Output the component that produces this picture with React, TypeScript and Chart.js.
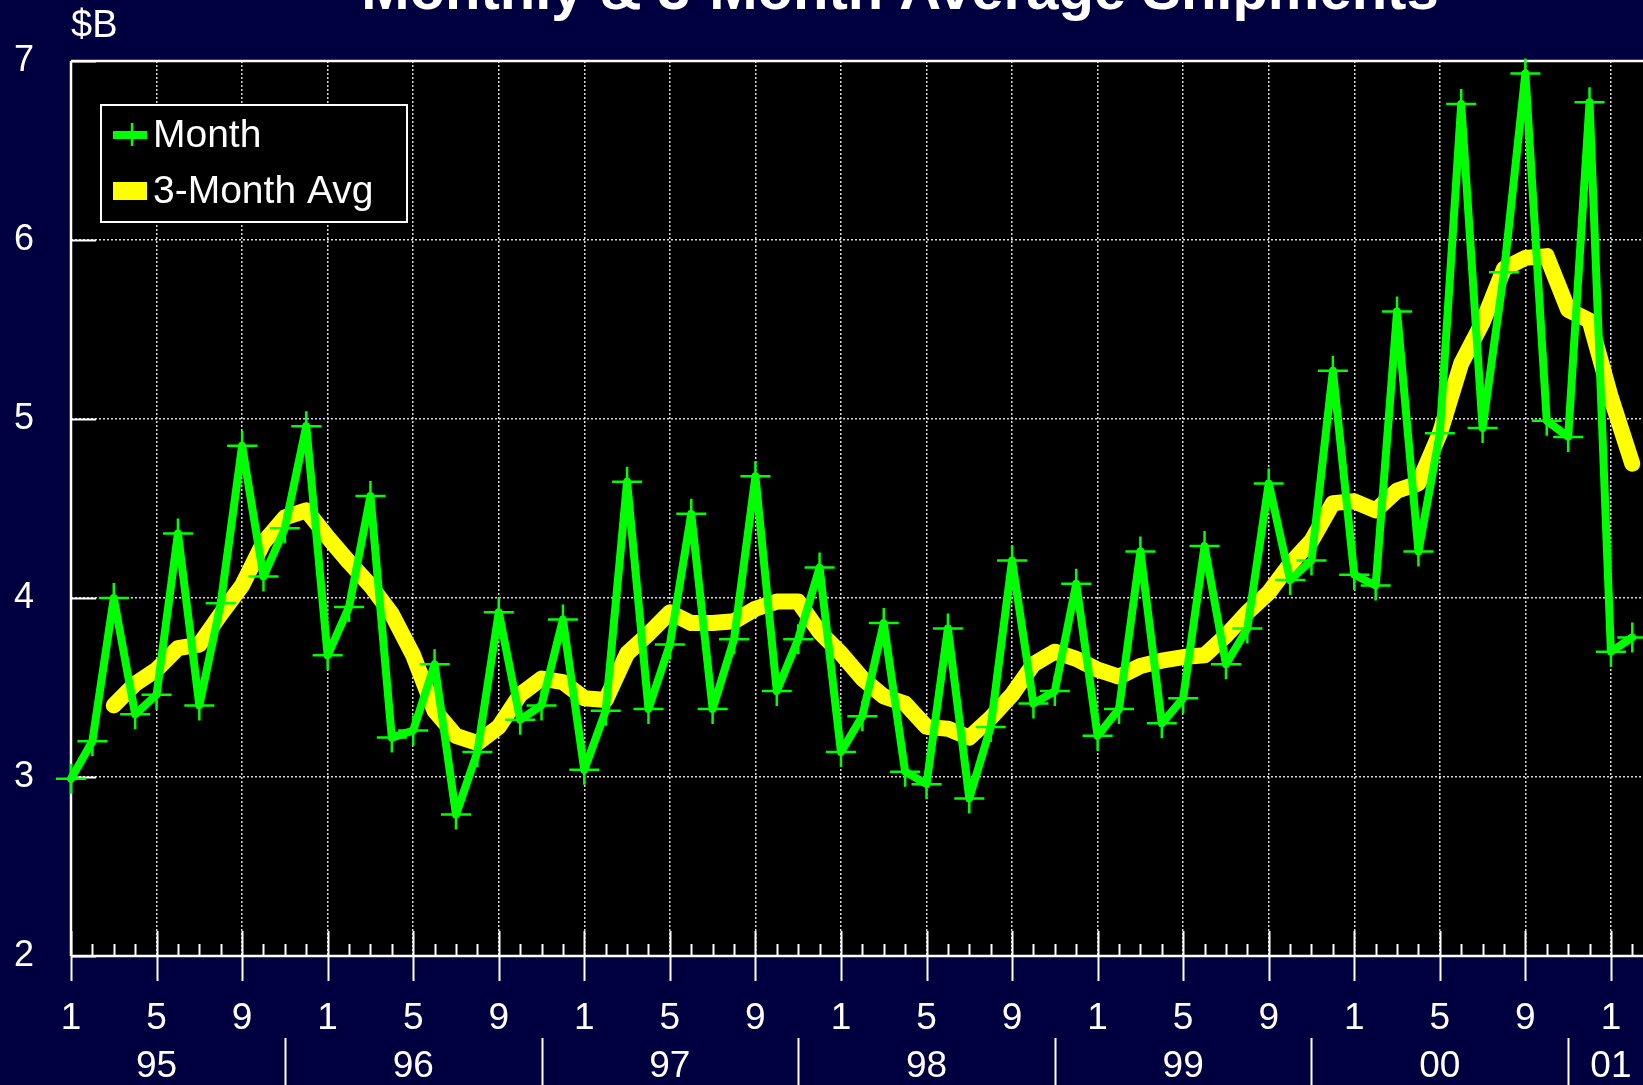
import React, { useEffect, useRef } from 'react';
import { Chart, registerables } from 'chart.js';

Chart.register(...registerables);

// ---- data (Jan 1995 .. Feb 2001), $B ----
const monthlyShipments = [
  2.99, 3.20, 4.00, 3.35, 3.46, 4.36, 3.40, 3.97, 4.85, 4.12, 4.39, 4.96,
  3.68, 3.95, 4.57, 3.22, 3.26, 3.63, 2.79, 3.14, 3.92, 3.32, 3.40, 3.88,
  3.04, 3.37, 4.65, 3.38, 3.74, 4.47, 3.38, 3.77, 4.68, 3.48, 3.77, 4.17,
  3.14, 3.34, 3.86, 3.03, 2.96, 3.83, 2.88, 3.28, 4.21, 3.41, 3.48, 4.08,
  3.23, 3.38, 4.26, 3.30, 3.44, 4.29, 3.63, 3.83, 4.64, 4.10, 4.21, 5.27,
  4.13, 4.07, 5.60, 4.26, 4.92, 6.76, 4.95, 5.82, 6.93, 4.99, 4.90, 6.77,
  3.70, 3.78,
];

const threeMonthAvg = [
  null, null, 3.40, 3.52, 3.60, 3.72, 3.74, 3.91, 4.07, 4.31, 4.45, 4.49,
  4.34, 4.20, 4.07, 3.91, 3.68, 3.37, 3.23, 3.19, 3.28, 3.46, 3.55, 3.53,
  3.44, 3.43, 3.69, 3.80, 3.92, 3.86, 3.86, 3.87, 3.94, 3.98, 3.98, 3.81,
  3.69, 3.55, 3.45, 3.41, 3.28, 3.27, 3.22, 3.33, 3.46, 3.63, 3.70, 3.66,
  3.60, 3.56, 3.62, 3.65, 3.67, 3.68, 3.79, 3.92, 4.03, 4.19, 4.32, 4.53,
  4.54, 4.49, 4.60, 4.64, 4.92, 5.31, 5.54, 5.84, 5.90, 5.91, 5.61, 5.55,
  5.12, 4.75,
];

const seriesNames = ['Month', '3-Month Avg'];
const monthTickLabels = ['1', '5', '9'];
const majorMonthTicks = [0, 4, 8, 12, 16, 20, 24, 28, 32, 36, 40, 44, 48, 52, 56, 60, 64, 68, 72];
const yearLabels = ['95', '96', '97', '98', '99', '00', '01'];
const yearLabelMonths = [4, 16, 28, 40, 52, 64, 72];
const yearDividerMonths = [10, 22, 34, 46, 58, 70];
const yTickValues = [2, 3, 4, 5, 6, 7];
const titleText = 'Monthly & 3-Month Average Shipments';
const unitText = '$B';

const FONT = "'Liberation Sans', Arial, Helvetica, sans-serif";
const NAVY = '#000040';
const GREEN = '#00ff00';
const YELLOW = '#ffff00';
const WHITE = '#ffffff';

const framePlugin = {
  id: 'framePlugin',
  beforeDraw(chart: any) {
    const { ctx, chartArea: a, width, height } = chart;
    ctx.save();
    ctx.fillStyle = NAVY;
    ctx.fillRect(0, 0, width, height);
    ctx.fillStyle = '#000000';
    ctx.fillRect(a.left, a.top, a.right - a.left, a.bottom - a.top);
    ctx.restore();
  },
  beforeDatasetsDraw(chart: any) {
    const { ctx, chartArea: a, scales } = chart;
    const xs = scales.x;
    const ys = scales.y;
    ctx.save();
    ctx.strokeStyle = WHITE;
    ctx.lineWidth = 2;
    // month ticks
    for (let i = 0; i <= Math.floor(xs.max); i++) {
      const px = Math.round(xs.getPixelForValue(i)) + 0.5;
      const major = majorMonthTicks.includes(i);
      ctx.beginPath();
      if (major) {
        ctx.moveTo(px, a.bottom - 25);
        ctx.lineTo(px, a.bottom + 25);
      } else {
        ctx.moveTo(px, a.bottom - 12);
        ctx.lineTo(px, a.bottom);
      }
      ctx.stroke();
    }
    // y ticks (inside)
    yTickValues.forEach((v) => {
      const py = Math.round(ys.getPixelForValue(v)) + 0.5;
      ctx.beginPath();
      ctx.moveTo(a.left, py);
      ctx.lineTo(a.left + 25, py);
      ctx.stroke();
    });
    // frame lines
    ctx.lineWidth = 2.5;
    ctx.beginPath();
    ctx.moveTo(a.left, a.top);
    ctx.lineTo(a.right + 2, a.top);
    ctx.moveTo(a.left, a.top);
    ctx.lineTo(a.left, a.bottom);
    ctx.moveTo(a.left, a.bottom);
    ctx.lineTo(a.right + 2, a.bottom);
    ctx.stroke();

    // year row
    ctx.lineWidth = 2;
    yearDividerMonths.forEach((m) => {
      const px = Math.round(xs.getPixelForValue(m)) + 0.5;
      ctx.beginPath();
      ctx.moveTo(px, 1038);
      ctx.lineTo(px, chart.height);
      ctx.stroke();
    });
    ctx.fillStyle = WHITE;
    ctx.font = `37px ${FONT}`;
    ctx.textAlign = 'center';
    ctx.textBaseline = 'middle';
    yearLabels.forEach((t, k) => {
      ctx.fillText(t, xs.getPixelForValue(yearLabelMonths[k]), 1067);
    });

    // title (partly above the canvas top, as in the source)
    ctx.font = `bold 58px ${FONT}`;
    ctx.textAlign = 'center';
    ctx.textBaseline = 'alphabetic';
    ctx.fillText(titleText, 900, 9);

    // unit label
    ctx.font = `38px ${FONT}`;
    ctx.textAlign = 'left';
    ctx.fillText(unitText, a.left, 37);
    ctx.restore();
  },
  afterDatasetsDraw(chart: any) {
    const { ctx } = chart;
    const ds = chart.data.datasets;
    ctx.save();
    // legend box
    const bx = 101, by = 105, bw = 306, bh = 117;
    ctx.fillStyle = '#000000';
    ctx.fillRect(bx, by, bw, bh);
    ctx.strokeStyle = WHITE;
    ctx.lineWidth = 2;
    ctx.strokeRect(bx, by, bw, bh);
    // Month symbol
    ctx.strokeStyle = ds[0].borderColor;
    ctx.lineWidth = 8;
    ctx.beginPath();
    ctx.moveTo(113, 135);
    ctx.lineTo(147, 135);
    ctx.stroke();
    ctx.lineWidth = 2.5;
    ctx.beginPath();
    ctx.moveTo(132, 123);
    ctx.lineTo(132, 146);
    ctx.stroke();
    // Avg symbol
    ctx.fillStyle = ds[1].borderColor;
    ctx.fillRect(113, 182, 34, 18);
    // texts
    ctx.fillStyle = WHITE;
    ctx.font = `39px ${FONT}`;
    ctx.textAlign = 'left';
    ctx.textBaseline = 'middle';
    ctx.fillText(ds[0].label, 153, 136);
    ctx.fillText(ds[1].label, 153, 192);
    ctx.restore();
  },
};

export default function App() {
  const canvasRef = useRef<HTMLCanvasElement | null>(null);

  useEffect(() => {
    const canvas = canvasRef.current;
    if (!canvas) return;
    const chart = new Chart(canvas, {
      type: 'line',
      data: {
        datasets: [
          {
            label: seriesNames[0],
            data: monthlyShipments.map((v, i) => ({ x: i, y: v })),
            borderColor: GREEN,
            backgroundColor: GREEN,
            borderWidth: 8,
            borderJoinStyle: 'round',
            borderCapStyle: 'round',
            pointStyle: 'cross',
            pointRadius: 15,
            pointBorderWidth: 2.5,
            pointBorderColor: GREEN,
            pointBackgroundColor: GREEN,
            tension: 0,
            clip: false,
          } as any,
          {
            label: seriesNames[1],
            data: threeMonthAvg
              .map((v, i) => ({ x: i, y: v }))
              .filter((p) => p.y !== null),
            borderColor: YELLOW,
            backgroundColor: YELLOW,
            borderWidth: 16,
            borderJoinStyle: 'round',
            borderCapStyle: 'round',
            pointRadius: 0,
            tension: 0,
            clip: false,
          } as any,
        ],
      },
      options: {
        responsive: false,
        animation: false,
        events: [],
        layout: { padding: { top: 61, left: 0, right: 0, bottom: 0 }, autoPadding: false },
        plugins: {
          legend: { display: false },
          title: { display: false },
          tooltip: { enabled: false },
        },
        scales: {
          x: {
            type: 'linear',
            min: 0,
            max: 73.5,
            afterBuildTicks: (s: any) => {
              s.ticks = majorMonthTicks.map((v) => ({ value: v }));
            },
            afterFit: (s: any) => {
              s.height = 129;
              s.paddingLeft = 0;
              s.paddingRight = 0;
            },
            ticks: {
              color: WHITE,
              font: { family: FONT, size: 37, lineHeight: '125px' },
              padding: 0,
              autoSkip: false,
              maxRotation: 0,
              callback: (v: any) => monthTickLabels[(Number(v) % 12) / 4],
            },
            grid: {
              color: 'rgba(255,255,255,0.85)',
              lineWidth: 1.5,
              drawTicks: false,
            },
            border: { display: false, dash: [2, 2] },
          },
          y: {
            type: 'linear',
            min: 2,
            max: 7,
            afterBuildTicks: (s: any) => {
              s.ticks = yTickValues.map((v) => ({ value: v }));
            },
            afterFit: (s: any) => {
              s.width = 71;
              s.paddingTop = 0;
              s.paddingBottom = 0;
            },
            ticks: {
              color: WHITE,
              font: { family: FONT, size: 36 },
              padding: 37,
            },
            grid: {
              color: 'rgba(255,255,255,0.85)',
              lineWidth: 1.5,
              drawTicks: false,
            },
            border: { display: false, dash: [2, 2] },
          },
        },
      } as any,
      plugins: [framePlugin],
    });
    return () => chart.destroy();
  }, []);

  return (
    <div
      style={{
        position: 'absolute',
        left: 0,
        top: 0,
        width: 1643,
        height: 1085,
        background: NAVY,
        overflow: 'hidden',
      }}
    >
      <canvas ref={canvasRef} width={1643} height={1085} style={{ display: 'block' }} />
    </div>
  );
}
